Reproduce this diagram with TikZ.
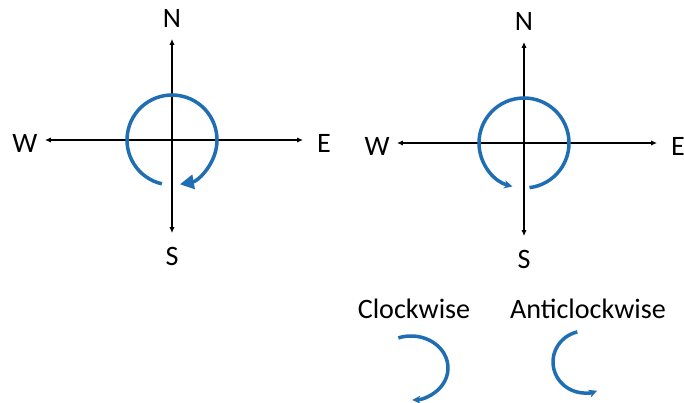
\documentclass[tikz,border=0pt]{standalone}
\usepackage{fontspec}
\setmainfont{Carlito}
\usetikzlibrary{arrows.meta, positioning}
\definecolor{turnblue}{RGB}{31,110,180}
\tikzset{
  axis/.style={{Latex[length=5pt,width=4.5pt]}-{Latex[length=5pt,width=4.5pt]}, line width=1.3pt, black},
  turn/.style={line width=3pt, turnblue},
  dirlabel/.style={font=\fontsize{24}{28}\selectfont, inner sep=0pt},
}

\begin{document}
\begin{tikzpicture}[x=0.03cm, y=-0.03cm]
  \useasboundingbox (0,0) rectangle (684,403);

  % Compass axes
  \foreach \i/\cx/\cy/\top/\bot/\lft/\rgt in {1/172/140/39/233/45/303, 2/524/143/42/236/397/657} {
    \coordinate (c\i) at (\cx,\cy);
    \coordinate (n\i) at (\cx,\top);
    \coordinate (s\i) at (\cx,\bot);
    \coordinate (w\i) at (\lft,\cy);
    \coordinate (e\i) at (\rgt,\cy);
    \draw[axis] (s\i) -- (n\i);
    \draw[axis] (w\i) -- (e\i);
    \node[dirlabel] (N\i) at (\cx,\top-21) {N};
    \node[dirlabel] (S\i) at (\cx,\bot+23) {S};
    \node[dirlabel] (W\i) at (\lft-20,\cy+3) {W};
    \node[dirlabel] (E\i) at (\rgt+21,\cy+3) {E};
  }

  % Turning arcs
  \draw[turn, -{Triangle[length=12pt,width=12pt]}] (c1) ++(103:45) arc[start angle=103, end angle=440, radius=45];
  \draw[turn, -{Stealth[length=7pt,width=7pt]}] (c2) ++(83:45) arc[start angle=83, end angle=-255, radius=45];

  % Legend
  \node[dirlabel] (cw) at (414,309) {Clockwise};
  \node[dirlabel] (acw) at (588,309) {Anticlockwise};
  \coordinate (cwc) at (411,368);
  \coordinate (acwc) at (585,362);
  \draw[turn, -{Stealth[length=7pt,width=7pt]}] (cwc) ++(-110:37 and 32) arc[start angle=-110, end angle=88, x radius=37, y radius=32];
  \draw[turn, -{Stealth[length=7pt,width=7pt]}] (acwc) ++(-104:32 and 31) arc[start angle=-104, end angle=-292, x radius=32, y radius=31];
\end{tikzpicture}
\end{document}
